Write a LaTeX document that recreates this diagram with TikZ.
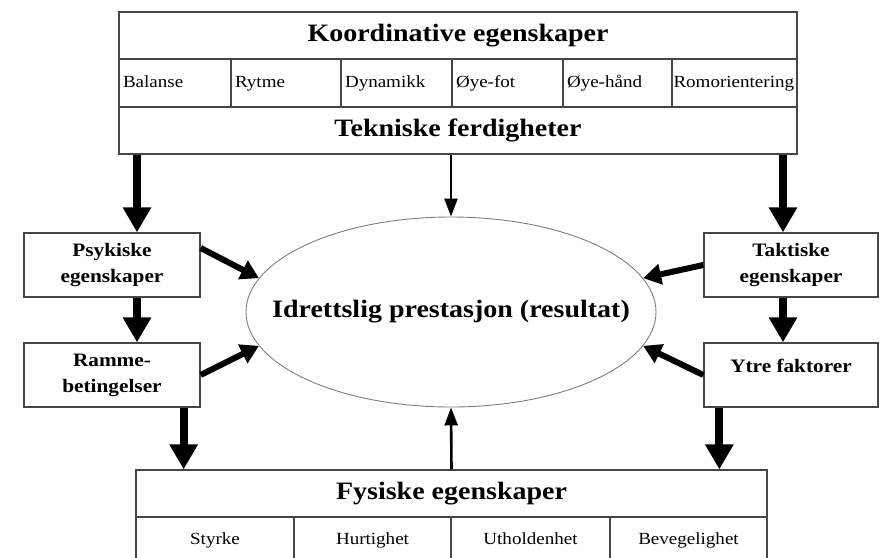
\documentclass[tikz,border=0pt]{standalone}
\usepackage{fontspec}
\setmainfont{Liberation Serif}[FakeStretch=1.12]
\usetikzlibrary{arrows.meta,shapes.geometric}
\definecolor{boxgray}{RGB}{70,70,70}
\definecolor{ringgray}{RGB}{125,125,125}

\begin{document}
\begin{tikzpicture}[x=1pt,y=-1pt,
                every node/.style={inner sep=0pt},
                headrow/.style={draw=boxgray,line width=1.3pt,minimum height=47pt,font=\fontsize{25}{27}\selectfont\bfseries},
                cellbox/.style={draw=boxgray,line width=1.3pt,minimum height=48pt,inner xsep=4pt,text height=12pt,text depth=4pt,align=left,font=\fontsize{17}{19}\selectfont},
                lowcell/.style={draw=boxgray,line width=1.3pt,minimum height=47pt,text height=12pt,text depth=4pt,align=center,font=\fontsize{17}{19}\selectfont},
                sidebox/.style={draw=boxgray,line width=1.3pt,minimum width=176pt,minimum height=64pt,align=center,font=\fontsize{19}{26}\selectfont\bfseries},
                bigarrow/.style={line width=8pt,-{Triangle[width=27pt,length=25pt]}},
                midarrow/.style={line width=6pt,-{Triangle[width=20pt,length=18pt]}},
                thinarrow/.style={line width=2.6pt,-{Triangle[width=13pt,length=18pt]}}]
                \useasboundingbox (0,0) rectangle (882,557);
                % top block
                \node [headrow,minimum width=678pt] (koord) at (458,35.5) {Koordinative egenskaper};
                \node [cellbox,minimum width=112pt,text width=104pt] (bal) at (175,83) {Balanse};
                \node [cellbox,minimum width=110pt,text width=102pt] (ryt) at (286,83) {Rytme};
                \node [cellbox,minimum width=111pt,text width=103pt] (dyn) at (396.5,83) {Dynamikk};
                \node [cellbox,minimum width=111pt,text width=103pt] (oyefot) at (507.5,83) {Øye-fot};
                \node [cellbox,minimum width=109pt,text width=101pt] (oyehand) at (617.5,83) {Øye-hånd};
                \node [cellbox,minimum width=125pt,text width=122pt,inner xsep=1.5pt] (rom) at (734.5,83) {Romorientering};
                \node [headrow,minimum width=678pt] (tekn) at (458,130.5) {Tekniske ferdigheter};
                % side boxes
                \node [sidebox] (psyk) at (112,265) {Psykiske\\egenskaper};
                \node [sidebox] (ramme) at (112,375) {Ramme-\\betingelser};
                \node [sidebox,minimum width=174pt] (tak) at (791,265) {Taktiske\\egenskaper};
                \node [sidebox,minimum width=174pt] (ytre) at (791,375) {\raisebox{18pt}{Ytre faktorer}};
                % result
                \node [ellipse,draw=ringgray,line width=0.9pt,minimum width=410pt,minimum height=190pt,
                       label={[font=\fontsize{25}{27}\selectfont\bfseries]center:Idrettslig prestasjon (resultat)}] (res) at (451,312) {};
                % bottom block
                \node [headrow,minimum width=631pt] (fys) at (451.5,493.5) {Fysiske egenskaper};
                \node [lowcell,minimum width=158pt] (styrke) at (215,540.5) {Styrke};
                \node [lowcell,minimum width=157pt] (hurt) at (372.5,540.5) {Hurtighet};
                \node [lowcell,minimum width=159pt] (uth) at (530.5,540.5) {Utholdenhet};
                \node [lowcell,minimum width=157pt] (bev) at (688.5,540.5) {Bevegelighet};
                % arrows
                \draw [bigarrow] ([xshift=25pt]psyk.north |- tekn.south) -- ([xshift=25pt]psyk.north);
                \draw [bigarrow] ([xshift=-8pt]tak.north |- tekn.south) -- ([xshift=-8pt]tak.north);
                \draw [thinarrow] (res.north |- tekn.south) -- (res.north);
                \draw [bigarrow] ([xshift=25pt]psyk.south) -- ([xshift=25pt]ramme.north);
                \draw [bigarrow] ([xshift=-8pt]tak.south) -- ([xshift=-8pt]ytre.north);
                \draw [bigarrow] ([xshift=-17pt]ramme.south east) -- ([xshift=-17pt]ramme.south east |- fys.north);
                \draw [bigarrow] ([xshift=16pt]ytre.south west) -- ([xshift=16pt]ytre.south west |- fys.north);
                \draw [thinarrow] (fys.north) -- (res.south);
                \draw [midarrow] ([yshift=17pt]psyk.east) -- (res.170);
                \draw [midarrow] (ramme.east) -- (res.190);
                \draw [midarrow] (tak.west) -- (res.10);
                \draw [midarrow] (ytre.west) -- (res.350);
\end{tikzpicture}
\end{document}
